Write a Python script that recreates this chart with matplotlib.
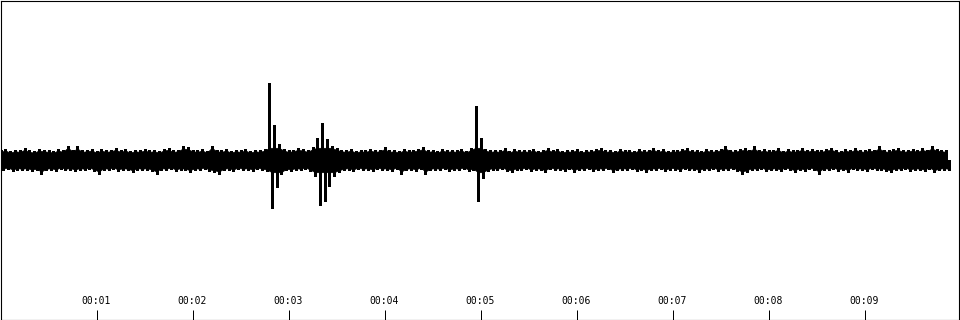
import matplotlib
matplotlib.use("Agg")
import matplotlib.pyplot as plt
import matplotlib.transforms as mtransforms
import numpy as np

# waveform envelope, one reading every 0.05 s (peak above / dip below the centre line)
step = 0.05
peak_up = [
    0.06, 0.07, 0.055, 0.065, 0.06, 0.075, 0.06, 0.055, 0.07, 0.065,
    0.06, 0.055, 0.07, 0.06, 0.09, 0.065, 0.085, 0.06, 0.065, 0.07,
    0.055, 0.07, 0.06, 0.065, 0.075, 0.06, 0.07, 0.055, 0.065, 0.06,
    0.07, 0.06, 0.065, 0.055, 0.07, 0.075, 0.06, 0.065, 0.085, 0.08,
    0.065, 0.06, 0.07, 0.055, 0.09, 0.065, 0.06, 0.07, 0.055, 0.065,
    0.06, 0.07, 0.055, 0.065, 0.06, 0.07, 0.48, 0.22, 0.10, 0.07,
    0.06, 0.065, 0.075, 0.07, 0.06, 0.08, 0.14, 0.23, 0.13, 0.09,
    0.075, 0.065, 0.06, 0.07, 0.055, 0.065, 0.06, 0.07, 0.06, 0.065,
    0.08, 0.06, 0.065, 0.055, 0.07, 0.06, 0.065, 0.07, 0.08, 0.06,
    0.065, 0.055, 0.07, 0.06, 0.065, 0.06, 0.07, 0.055, 0.075, 0.34,
    0.14, 0.07, 0.06, 0.065, 0.06, 0.075, 0.055, 0.07, 0.06, 0.065,
    0.06, 0.07, 0.055, 0.065, 0.075, 0.06, 0.07, 0.055, 0.065, 0.06,
    0.07, 0.055, 0.065, 0.06, 0.07, 0.075, 0.06, 0.065, 0.055, 0.07,
    0.06, 0.065, 0.055, 0.07, 0.06, 0.065, 0.075, 0.06, 0.07, 0.055,
    0.065, 0.06, 0.07, 0.075, 0.06, 0.065, 0.055, 0.07, 0.06, 0.065,
    0.07, 0.085, 0.065, 0.06, 0.07, 0.075, 0.065, 0.085, 0.06, 0.07,
    0.06, 0.065, 0.075, 0.055, 0.07, 0.06, 0.065, 0.075, 0.06, 0.07,
    0.065, 0.06, 0.07, 0.075, 0.065, 0.055, 0.07, 0.06, 0.075, 0.065,
    0.06, 0.07, 0.065, 0.085, 0.065, 0.06, 0.07, 0.075, 0.06, 0.065,
    0.07, 0.06, 0.075, 0.065, 0.085, 0.07, 0.065, 0.06,
]
dip_down = [
    0.065, 0.055, 0.07, 0.06, 0.065, 0.06, 0.07, 0.065, 0.085, 0.065,
    0.06, 0.07, 0.055, 0.065, 0.06, 0.07, 0.06, 0.065, 0.055, 0.07,
    0.085, 0.06, 0.065, 0.055, 0.07, 0.06, 0.065, 0.075, 0.06, 0.065,
    0.06, 0.07, 0.085, 0.06, 0.065, 0.055, 0.07, 0.06, 0.065, 0.075,
    0.06, 0.065, 0.055, 0.07, 0.075, 0.085, 0.065, 0.06, 0.07, 0.055,
    0.065, 0.06, 0.07, 0.055, 0.065, 0.07, 0.30, 0.17, 0.09, 0.065,
    0.07, 0.06, 0.065, 0.055, 0.07, 0.10, 0.28, 0.26, 0.16, 0.10,
    0.075, 0.065, 0.06, 0.07, 0.055, 0.065, 0.06, 0.07, 0.055, 0.065,
    0.06, 0.07, 0.055, 0.085, 0.065, 0.06, 0.07, 0.055, 0.085, 0.065,
    0.06, 0.065, 0.055, 0.07, 0.06, 0.065, 0.055, 0.07, 0.065, 0.26,
    0.11, 0.07, 0.06, 0.065, 0.055, 0.07, 0.075, 0.06, 0.065, 0.055,
    0.07, 0.06, 0.065, 0.075, 0.055, 0.065, 0.06, 0.07, 0.055, 0.075,
    0.06, 0.065, 0.055, 0.07, 0.06, 0.065, 0.055, 0.075, 0.065, 0.06,
    0.065, 0.055, 0.07, 0.06, 0.075, 0.06, 0.065, 0.055, 0.07, 0.06,
    0.06, 0.07, 0.055, 0.065, 0.06, 0.075, 0.06, 0.065, 0.055, 0.07,
    0.06, 0.065, 0.055, 0.07, 0.085, 0.075, 0.06, 0.065, 0.055, 0.07,
    0.065, 0.06, 0.07, 0.055, 0.065, 0.075, 0.06, 0.07, 0.055, 0.065,
    0.085, 0.06, 0.065, 0.055, 0.07, 0.06, 0.075, 0.055, 0.065, 0.06,
    0.07, 0.055, 0.065, 0.06, 0.07, 0.075, 0.06, 0.065, 0.055, 0.07,
    0.06, 0.065, 0.07, 0.055, 0.075, 0.065, 0.06, 0.065,
]
tick_secs = [1, 2, 3, 4, 5, 6, 7, 8, 9]
tick_labels = ["00:01", "00:02", "00:03", "00:04", "00:05",
               "00:06", "00:07", "00:08", "00:09"]

t = np.arange(len(peak_up)) * step
up = np.array(peak_up)
dn = -np.array(dip_down)
cap = 0.09  # body is kept low, only thin strokes reach the big spikes

fig = plt.figure(figsize=(9.6, 3.2), dpi=100)
ax = fig.add_axes([0.5 / 960, 0.5 / 320, 958 / 960, 319 / 320])
# body of the trace
ax.fill_between(t, 0, np.minimum(up, cap) * 0.85, color="black", lw=0.5,
                antialiased=False)
ax.fill_between(t + step / 2, np.maximum(dn, -cap) * 0.85, 0, color="black",
                lw=0.5, antialiased=False)
# peaks / dips as thin strokes
ax.vlines(t, 0, up, color="black", lw=1.0, antialiased=False)
ax.vlines(t + step / 2, dn, 0, color="black", lw=1.0, antialiased=False)
ax.set_xlim(0, 958 / 96)
ax.set_ylim(-1, 1)
ax.set_yticks([])
ax.set_xticks(tick_secs)
ax.tick_params(axis="x", direction="in", length=7.2, width=0.72,
               labelbottom=False)
for s in ax.spines.values():
    s.set_linewidth(0.8)
    s.set_color("black")

trans = mtransforms.blended_transform_factory(ax.transData, ax.transAxes)
for s, lab in zip(tick_secs, tick_labels):
    ax.text(s, 18 / 319, lab, transform=trans, ha="center", va="center",
            fontsize=7, family="DejaVu Sans Mono", color="black")

fig.savefig("out.png", dpi=100)
